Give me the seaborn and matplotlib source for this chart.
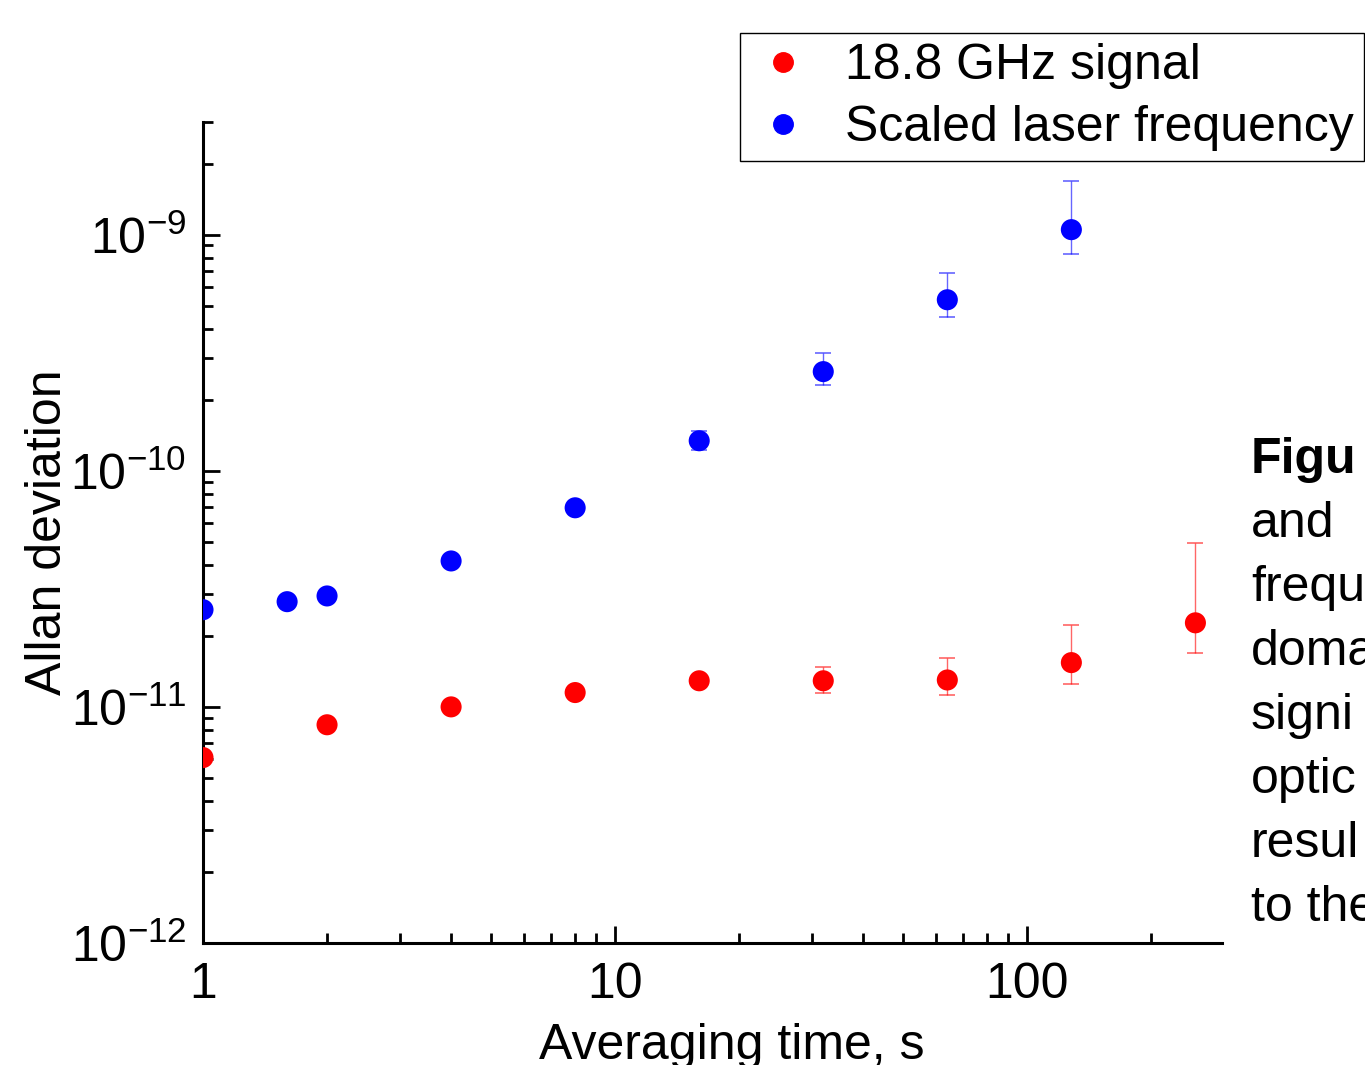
import numpy as np
import pandas as pd
import matplotlib
matplotlib.use("Agg")
import matplotlib.pyplot as plt
import seaborn as sns
from matplotlib.ticker import LogLocator, FuncFormatter, NullFormatter
from matplotlib.lines import Line2D

# ---- data ----
red_label = "18.8 GHz signal"
blue_label = "Scaled laser frequency"

red_tau = [1, 2, 4, 8, 16, 32, 64, 128, 256]
red_adev = [6.1e-12, 8.4e-12, 1.0e-11, 1.15e-11, 1.29e-11, 1.29e-11, 1.3e-11, 1.54e-11, 2.27e-11]
red_lo = [6.0e-12, 8.3e-12, 1.0e-11, 1.13e-11, 1.22e-11, 1.15e-11, 1.12e-11, 1.25e-11, 1.69e-11]
red_hi = [6.2e-12, 8.5e-12, 1.0e-11, 1.17e-11, 1.36e-11, 1.48e-11, 1.61e-11, 2.22e-11, 4.95e-11]

blue_tau = [1, 1.6, 2, 4, 8, 16, 32, 64, 128]
blue_adev = [2.58e-11, 2.79e-11, 2.95e-11, 4.15e-11, 6.97e-11, 1.34e-10, 2.63e-10, 5.3e-10, 1.05e-9]
blue_lo = [2.57e-11, 2.78e-11, 2.94e-11, 4.13e-11, 6.9e-11, 1.22e-10, 2.31e-10, 4.5e-10, 8.3e-10]
blue_hi = [2.59e-11, 2.80e-11, 2.96e-11, 4.17e-11, 7.05e-11, 1.48e-10, 3.16e-10, 6.9e-10, 1.68e-9]

side_lines = ["Figu", "and", "frequ", "doma", "signi", "optic", "resul", "to the"]

# ---- style ----
sns.set_style("ticks")
plt.rcParams["font.family"] = ["Liberation Sans", "DejaVu Sans"]
plt.rcParams["mathtext.fontset"] = "custom"
plt.rcParams["mathtext.rm"] = "Liberation Sans"
plt.rcParams["mathtext.it"] = "Liberation Sans"
plt.rcParams["mathtext.bf"] = "Liberation Sans:bold"
for k in ["text.color", "axes.labelcolor", "xtick.color", "ytick.color", "axes.edgecolor"]:
    plt.rcParams[k] = "black"

FS = 36

fig = plt.figure(figsize=(13.65, 10.65), dpi=100)
ax = fig.add_axes([203 / 1365, 1 - 943 / 1065, (1222 - 203) / 1365, (943 - 122) / 1065])

df = pd.DataFrame({
    "tau": red_tau + blue_tau,
    "adev": red_adev + blue_adev,
    "series": [red_label] * len(red_tau) + [blue_label] * len(blue_tau),
})

for tau, adev, lo, hi, col in [(red_tau, red_adev, red_lo, red_hi, "#ff0000"),
                               (blue_tau, blue_adev, blue_lo, blue_hi, "#0000ff")]:
    adev = np.array(adev)
    yerr = np.vstack([adev - np.array(lo), np.array(hi) - adev])
    ax.errorbar(tau, adev, yerr=yerr, fmt="none", ecolor=col, elinewidth=1.0,
                capsize=5.5, capthick=1.2, alpha=0.6, zorder=2)

sns.scatterplot(data=df, x="tau", y="adev", hue="series",
                palette={red_label: "#ff0000", blue_label: "#0000ff"},
                s=230, edgecolor="none", ax=ax, zorder=3, legend=False)

ax.set_xscale("log")
ax.set_yscale("log")
ax.set_xlim(1, 297)
ax.set_ylim(1e-12, 3e-9)

for side in ["top", "right"]:
    ax.spines[side].set_visible(False)
for side in ["left", "bottom"]:
    ax.spines[side].set_linewidth(2.2)

ax.xaxis.set_major_locator(LogLocator(base=10, numticks=10))
ax.xaxis.set_minor_locator(LogLocator(base=10, subs=np.arange(2, 10), numticks=20))
ax.yaxis.set_major_locator(LogLocator(base=10, numticks=10))
ax.yaxis.set_minor_locator(LogLocator(base=10, subs=np.arange(2, 10), numticks=20))
ax.xaxis.set_major_formatter(FuncFormatter(lambda v, p: f"{v:g}"))
ax.yaxis.set_major_formatter(FuncFormatter(lambda v, p: r"$\mathregular{10^{%d}}$" % round(np.log10(v))))
ax.xaxis.set_minor_formatter(NullFormatter())
ax.yaxis.set_minor_formatter(NullFormatter())

ax.tick_params(axis="both", which="major", direction="in", length=12, width=2, labelsize=FS)
ax.tick_params(axis="both", which="minor", direction="in", length=7, width=2)
ax.tick_params(axis="x", which="major", pad=14)
ax.tick_params(axis="y", which="major", pad=12)

ax.set_xlabel("Averaging time, s", fontsize=FS)
ax.set_ylabel("Allan deviation", fontsize=FS)
ax.xaxis.set_label_coords((732 - 203) / 1019, -0.098)
ax.yaxis.set_label_coords(-0.13, 0.5)

# legend
handles = [Line2D([], [], marker="o", linestyle="none", color="#ff0000", markersize=14),
           Line2D([], [], marker="o", linestyle="none", color="#0000ff", markersize=14)]
leg = fig.legend(handles, [red_label, blue_label], loc="upper left",
                 bbox_to_anchor=(740 / 1365, 1 - 33 / 1065), fontsize=FS,
                 frameon=True, fancybox=False, edgecolor="black", framealpha=1,
                 handletextpad=0.6, borderpad=0.2, labelspacing=0.32,
                 handlelength=1.3, borderaxespad=0)
leg.get_frame().set_linewidth(1.0)

# side text (clipped paragraph beside the figure)
for i, line in enumerate(side_lines):
    fig.text(1251 / 1365, 1 - (460 + 64 * i) / 1065, line, fontsize=FS,
             fontweight="bold" if i == 0 else "normal", va="center", ha="left")

fig.savefig("out.png", dpi=100)
